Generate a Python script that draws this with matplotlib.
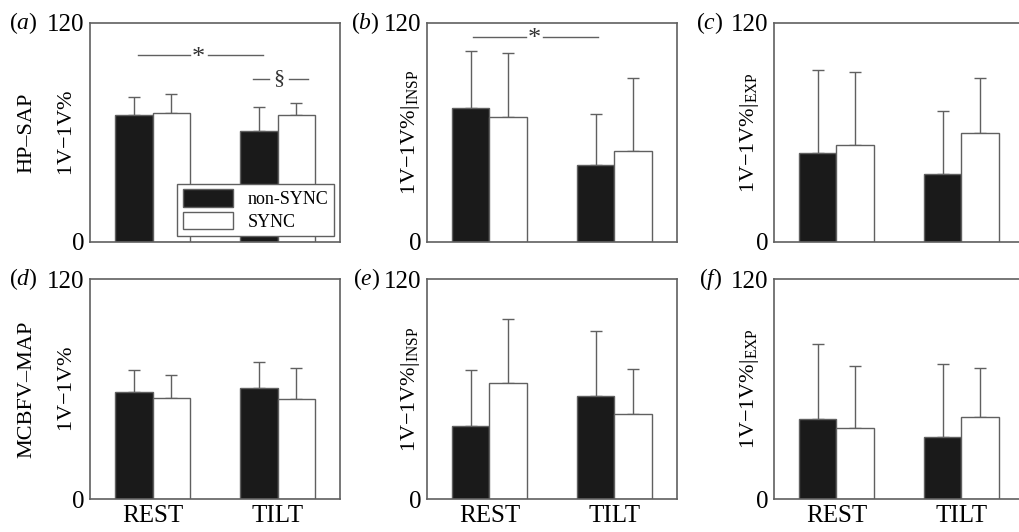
import matplotlib
matplotlib.use("Agg")
import matplotlib.pyplot as plt
import numpy as np

plt.rcParams['font.family'] = ['Liberation Serif', 'DejaVu Serif']
plt.rcParams['mathtext.fontset'] = 'custom'
plt.rcParams['mathtext.rm'] = 'Liberation Serif'
plt.rcParams['mathtext.it'] = 'Liberation Serif:italic'

# data
groups = ["REST", "TILT"]
panel_letters = ["a", "b", "c", "d", "e", "f"]

nonsync_mean = [[69.4, 60.6], [73.6, 42.0], [48.8, 37.3],
                [58.1, 60.8], [39.8, 56.0], [43.7, 33.7]]
nonsync_top = [[79.5, 74.0], [104.7, 70.1], [94.0, 71.7],
               [70.3, 75.0], [70.6, 91.6], [84.3, 73.9]]
sync_mean = [[70.7, 69.4], [68.5, 50.1], [52.9, 59.6],
             [55.2, 54.5], [63.3, 46.3], [39.0, 45.0]]
sync_top = [[81.3, 76.2], [103.8, 89.6], [92.9, 89.6],
            [67.9, 71.4], [98.1, 70.9], [72.4, 71.3]]

ylabels = [r"1V$-$1V%", r"1V$-$1V%$|_{\mathrm{INSP}}$", r"1V$-$1V%$|_{\mathrm{EXP}}$",
           r"1V$-$1V%", r"1V$-$1V%$|_{\mathrm{INSP}}$", r"1V$-$1V%$|_{\mathrm{EXP}}$"]
row_labels = ["HP\u2013SAP", "MCBFV\u2013MAP"]

gray = "#606060"
W, H = 1020, 532
fig = plt.figure(figsize=(W / 100, H / 100), dpi=100)

lefts = [90, 427, 774]
tops = [23, 279]
bottoms = [242, 499]
aw = 250

# label offsets per column (axes coords)
ylab_x = [-0.092, -0.066, -0.098]
letter_x = [-0.21, -0.188, -0.205]

x = np.arange(len(groups))
bw = 0.3

axes = []
for i in range(6):
    r, c = divmod(i, 3)
    ax = fig.add_axes([lefts[c] / W, 1 - bottoms[r] / H, aw / W, (bottoms[r] - tops[r]) / H])
    axes.append(ax)

    nm = np.array(nonsync_mean[i]); sm = np.array(sync_mean[i])
    ne = np.array(nonsync_top[i]) - nm; se = np.array(sync_top[i]) - sm

    ax.errorbar(x - bw / 2, nm, yerr=[np.zeros_like(ne), ne], fmt="none",
                ecolor=gray, elinewidth=1, capsize=4, capthick=1, zorder=1)
    ax.errorbar(x + bw / 2, sm, yerr=[np.zeros_like(se), se], fmt="none",
                ecolor=gray, elinewidth=1, capsize=4, capthick=1, zorder=1)
    ax.bar(x - bw / 2, nm, bw, color="#1a1a1a", edgecolor=gray, linewidth=1,
           label="non-SYNC", zorder=2)
    ax.bar(x + bw / 2, sm, bw, color="white", edgecolor=gray, linewidth=1,
           label="SYNC", zorder=2)

    ax.set_xlim(-0.5, 1.5)
    ax.set_ylim(0, 120)
    ax.set_yticks([0, 120])
    ax.set_yticklabels(["0", "120"], fontsize=18)
    ax.tick_params(axis="both", length=0, pad=4)
    ax.set_xticks(x)
    if r == 1:
        ax.set_xticklabels(groups, fontsize=18)
    else:
        ax.set_xticklabels([])
    for s in ax.spines.values():
        s.set_color(gray)
        s.set_linewidth(1.2)

    ax.text(ylab_x[c], 0.5, ylabels[i], transform=ax.transAxes, rotation=90,
            ha="center", va="center", fontsize=16)
    if c == 0:
        ax.text(-0.253, 0.5, row_labels[r], transform=ax.transAxes, rotation=90,
                ha="center", va="center", fontsize=16)
    ax.text(letter_x[c], 1.0, "($" + panel_letters[i] + "$)", transform=ax.transAxes,
            ha="right", va="center", fontsize=17)


def sig_line(ax, x0, x1, xm, y, sym, gap, dy=0.0, size=16):
    ax.plot([x0, xm - gap], [y, y], color=gray, lw=1)
    ax.plot([xm + gap, x1], [y, y], color=gray, lw=1)
    ax.text(xm, y + dy, sym, ha="center", va="center", fontsize=size, color="#333333")


sig_line(axes[0], -0.12, 0.88, 0.37, 102.3, "*", 0.07, dy=-1.5, size=19)
sig_line(axes[0], 0.80, 1.24, 1.01, 89.5, "\u00a7", 0.08, size=16)
sig_line(axes[1], -0.13, 0.87, 0.36, 112.6, "*", 0.07, dy=-1.5, size=19)

leg = axes[0].legend(loc="lower right", bbox_to_anchor=(0.976, 0.027), fontsize=13,
                     frameon=True, fancybox=False, framealpha=1, edgecolor=gray,
                     handlelength=2.8, handleheight=1.1, borderaxespad=0,
                     borderpad=0.3, labelspacing=0.2)
leg.get_frame().set_linewidth(1)
leg.set_zorder(5)

fig.savefig("out.png", dpi=100)
